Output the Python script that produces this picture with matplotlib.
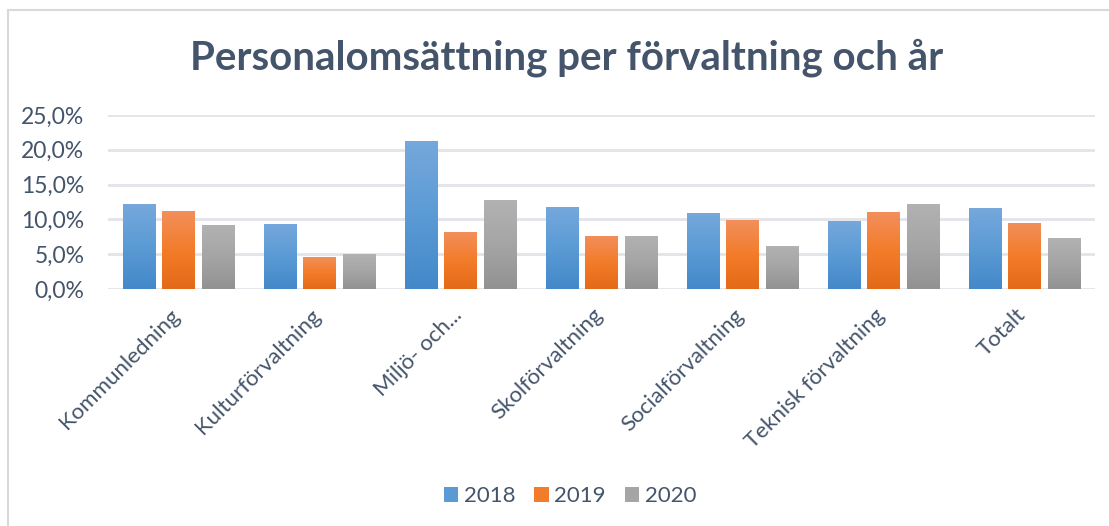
import numpy as np
import matplotlib
matplotlib.use('Agg')
import matplotlib.pyplot as plt
from matplotlib.colors import LinearSegmentedColormap
from matplotlib.patches import Rectangle, Patch
from matplotlib.ticker import FuncFormatter
import matplotlib.transforms as mtransforms

plt.rcParams['font.family'] = ['Lato', 'DejaVu Sans']

# Data
kategorier = ['Kommunledning', 'Kulturförvaltning', 'Miljö- och...', 'Skolförvaltning',
              'Socialförvaltning', 'Teknisk förvaltning', 'Totalt']
ar = ['2018', '2019', '2020']
v2018 = [12.2, 9.35, 21.3, 11.8, 10.9, 9.8, 11.6]
v2019 = [11.2, 4.65, 8.2, 7.65, 9.9, 11.05, 9.5]
v2020 = [9.2, 5.0, 12.75, 7.65, 6.2, 12.2, 7.35]

# gradient colours (top, middle, bottom) per series
gradienter = [
    ['#76a8dc', '#5b9bd5', '#4388c9'],
    ['#f28f5c', '#f37c2a', '#e36a17'],
    ['#b2b2b2', '#a5a5a5', '#929292'],
]
text_farg = '#44546a'
grid_farg = '#e1e4e9'

W, H = 1109, 526
fig = plt.figure(figsize=(W / 100, H / 100), dpi=100)

# chart border (only left/top visible in crop)
fig.patches.append(Rectangle((8 / W, -0.1), 1.2, 1 - 10 / H + 0.1, transform=fig.transFigure,
                             fill=False, edgecolor='#d9d9d9', linewidth=1.5))

ax = fig.add_axes([108 / W, 1 - 289 / H, (1095 - 108) / W, (289 - 115) / H])

x = np.arange(len(kategorier))
bredd = 0.227
steg = 0.277
serier = [v2018, v2019, v2020]

grad = np.linspace(0, 1, 256).reshape(-1, 1)
for k, vals in enumerate(serier):
    cmap = LinearSegmentedColormap.from_list('g%d' % k, gradienter[k][::-1])
    bars = ax.bar(x + (k - 1) * steg, vals, width=bredd, color=gradienter[k][1],
                  zorder=3, linewidth=0)
    for b in bars:
        x0, y0 = b.get_x(), b.get_y()
        x1, y1 = x0 + b.get_width(), y0 + b.get_height()
        im = ax.imshow(grad, extent=[x0, x1, y0, y1], origin='lower', aspect='auto',
                       cmap=cmap, zorder=4)
        im.set_clip_path(b)

ax.set_xlim(-0.5, len(kategorier) - 0.5)
ax.set_ylim(0, 25)
ax.set_yticks(np.arange(0, 25.1, 5))
ax.yaxis.set_major_formatter(FuncFormatter(lambda v, p: ('%.1f' % v).replace('.', ',') + '%'))
ax.grid(axis='y', color=grid_farg, linewidth=2, zorder=0)
ax.set_axisbelow(True)
for s in ax.spines.values():
    s.set_visible(False)
ax.tick_params(axis='both', length=0, labelsize=16.5, labelcolor=text_farg)
ax.tick_params(axis='y', pad=17)

ax.set_xticks(x)
ax.set_xticklabels(kategorier, rotation=45, ha='right', va='top', rotation_mode='anchor',
                   fontsize=16)
forskjut = mtransforms.ScaledTranslation(-6.5 / 72, -8 / 72, fig.dpi_scale_trans)
for lbl in ax.get_xticklabels():
    lbl.set_transform(lbl.get_transform() + forskjut)

fig.text(567 / W, 1 - 58 / H, 'Personalomsättning per förvaltning och år', ha='center',
         va='center', fontsize=29, fontweight='bold', color=text_farg)

handtag = [Patch(facecolor=g[1], edgecolor='none') for g in gradienter]
leg = fig.legend(handtag, ar, loc='center', bbox_to_anchor=(570 / W, 1 - 496 / H), ncol=3,
                 frameon=False, fontsize=16, handlelength=0.65, handleheight=0.65,
                 handletextpad=0.25, columnspacing=0.85)
for t in leg.get_texts():
    t.set_color(text_farg)

fig.savefig('out.png', dpi=100)
